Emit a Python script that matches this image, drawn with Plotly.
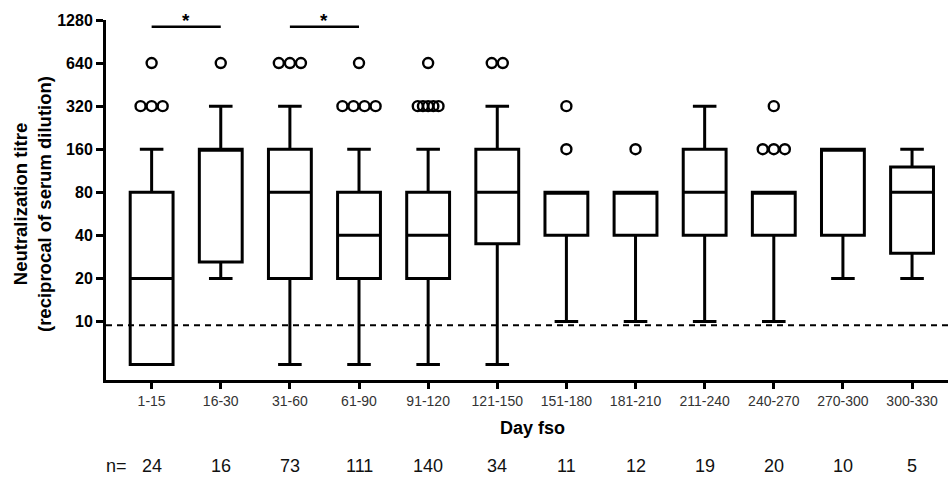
import plotly.graph_objects as go
import math

categories = ["1-15", "16-30", "31-60", "61-90", "91-120", "121-150",
              "151-180", "181-210", "211-240", "240-270", "270-300", "300-330"]
q1 = [5, 26, 20, 20, 20, 35, 40, 40, 40, 40, 40, 30]
median = [20, 160, 80, 40, 40, 80, 80, 80, 80, 80, 160, 80]
q3 = [80, 160, 160, 80, 80, 160, 80, 80, 160, 80, 160, 120]
lower_whisker = [5, 20, 5, 5, 5, 5, 10, 10, 10, 10, 20, 20]
upper_whisker = [160, 320, 320, 160, 160, 320, 80, 80, 320, 80, 160, 160]
n_counts = [24, 16, 73, 111, 140, 34, 11, 12, 19, 20, 10, 5]

# outliers: (category index, value, count)
outlier_cat = [0, 0, 1, 2, 3, 3, 4, 4, 5, 6, 6, 7, 9, 9]
outlier_val = [640, 320, 640, 640, 640, 320, 640, 320, 640, 320, 160, 160, 320, 160]
outlier_cnt = [1, 3, 1, 3, 1, 4, 1, 5, 2, 1, 1, 1, 1, 3]

y_ticks = [10, 20, 40, 80, 160, 320, 640, 1280]
detection_limit = 9.4
significant_pairs = [(0, 1), (2, 3)]

FONT = "Liberation Sans, Arial, sans-serif"
xs = list(range(len(categories)))

fig = go.Figure()
fig.add_trace(go.Box(
    x=xs, q1=q1, median=median, q3=q3,
    lowerfence=lower_whisker, upperfence=upper_whisker,
    width=0.62, whiskerwidth=0.55,
    fillcolor="white", line=dict(color="black", width=3),
    boxpoints=False, showlegend=False, hoverinfo="skip"))

ox, oy = [], []
for c, v, k in zip(outlier_cat, outlier_val, outlier_cnt):
    sp = 0.075 if k >= 5 else 0.16
    for i in range(k):
        ox.append(c + (i - (k - 1) / 2) * sp)
        oy.append(v)
fig.add_trace(go.Scatter(
    x=ox, y=oy, mode="markers", showlegend=False, hoverinfo="skip",
    marker=dict(symbol="circle-open", size=10, color="black", line=dict(width=2.4))))

# detection limit
fig.add_shape(type="line", xref="paper", x0=0, x1=1, yref="y",
              y0=detection_limit, y1=detection_limit,
              line=dict(color="black", width=2, dash="6px,5px"))

# significance bars
for a, b in significant_pairs:
    fig.add_shape(type="line", xref="x", x0=a, x1=b, yref="paper", y0=0.981, y1=0.981,
                  line=dict(color="black", width=2.5))
    fig.add_annotation(x=(a + b) / 2, y=1.0, xref="x", yref="paper", text="*",
                       showarrow=False, yanchor="middle",
                       font=dict(family=FONT, size=19, color="black", weight="bold"))

# n row
NY = -0.239
fig.add_annotation(x=(116 - 106) / 842, y=NY, xref="paper", yref="paper", text="n=",
                   showarrow=False, xanchor="center", yanchor="middle",
                   font=dict(family=FONT, size=18, color="#111"))
for i, n in enumerate(n_counts):
    fig.add_annotation(x=i, y=NY, xref="x", yref="paper", text=str(n),
                       showarrow=False, yanchor="middle",
                       font=dict(family=FONT, size=18, color="#111"))

fig.add_annotation(x=(532 - 106) / 842, y=-0.133, xref="paper", yref="paper", text="Day fso",
                   showarrow=False, yanchor="middle",
                   font=dict(family=FONT, size=18, color="black", weight="bold"))

fig.add_annotation(x=(32 - 106) / 842, y=(380 - 204) / 360, xref="paper", yref="paper",
                   text="Neutralization titre<br>(reciprocal of serum dilution)",
                   showarrow=False, textangle=-90, xanchor="center", yanchor="middle",
                   font=dict(family=FONT, size=18.5, color="black", weight="bold"))

fig.update_layout(
    width=948, height=477,
    margin=dict(l=106, r=0, t=20, b=97),
    paper_bgcolor="white", plot_bgcolor="white",
    font=dict(family=FONT, color="black"),
    xaxis=dict(range=[-0.66, 11.52], tickvals=xs, ticktext=categories,
               showgrid=False, zeroline=False, showline=True, linecolor="black",
               linewidth=3, ticks="outside", ticklen=6, tickwidth=2.5, tickcolor="black",
               tickfont=dict(family=FONT, size=14, color="#333")),
    yaxis=dict(type="log", range=[math.log10(3.9), math.log10(1280)],
               tickvals=y_ticks, ticktext=[str(v) for v in y_ticks],
               showgrid=False, zeroline=False, showline=True, linecolor="black",
               linewidth=3, ticks="outside", ticklen=7, tickwidth=2.5, tickcolor="black",
               tickfont=dict(family=FONT, size=16, color="black", weight="bold")),
)

fig.write_html("out.html", config={"displayModeBar": False},
               post_script="document.body.style.margin='0';document.body.style.overflow='hidden';")
